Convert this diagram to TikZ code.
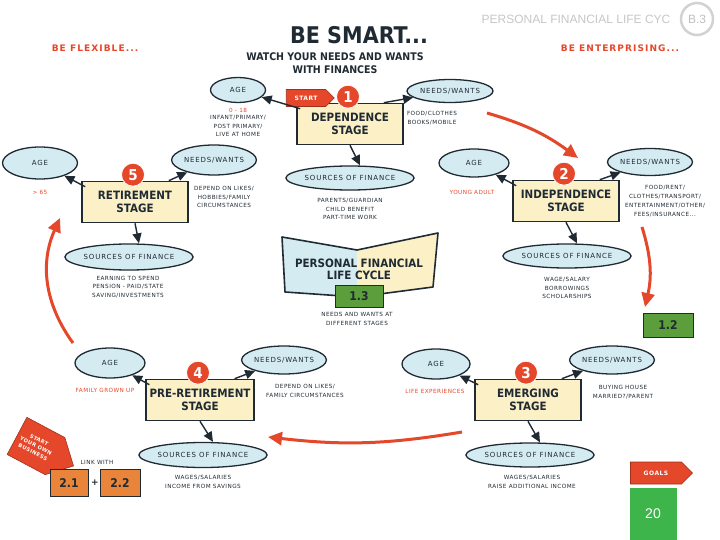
\documentclass[tikz,border=0pt]{standalone}
\usepackage{fontspec}
\setmainfont{DejaVu Sans}
\newfontfamily\handfont{DejaVu Sans Condensed}
\newfontfamily\spacedfont{DejaVu Sans}[LetterSpace=12]
\newfontfamily\notefont{DejaVu Sans}[LetterSpace=8]
\newfontfamily\headfont{Liberation Sans}
\usepackage{tikz}
\usetikzlibrary{arrows.meta,shapes.geometric,shapes.symbols,positioning}

\definecolor{sky}{HTML}{D5EBF2}
\definecolor{cream}{HTML}{FCF0C6}
\definecolor{tomato}{HTML}{E4472A}
\definecolor{ink}{HTML}{1F2A33}
\definecolor{leaf}{HTML}{5C9E3C}
\definecolor{mint}{HTML}{3DB54A}
\definecolor{amber}{HTML}{E8853B}

\tikzset{
	stagebox/.style={draw=ink, line width=1.6pt, fill=cream, align=center, minimum width=106pt, minimum height=41pt,
		font=\handfont\bfseries\fontsize{11.5}{12.5}\selectfont, text=ink},
	bubble/.style={ellipse, draw=ink, line width=1.3pt, fill=sky, inner sep=0pt, text=ink,
		font=\spacedfont\fontsize{7}{7}\selectfont},
	note/.style={align=center, text=ink, font=\notefont\fontsize{5.7}{8.8}\selectfont},
	rednote/.style={note, text=tomato},
	badge/.style={circle, fill=tomato, draw=white, line width=0.8pt, text=white, inner sep=0pt, minimum size=23pt,
		font=\handfont\bfseries\fontsize{15}{15}\selectfont},
	link/.style={ink, line width=1.4pt, -{Triangle[length=10pt,width=9pt]}},
	loop/.style={tomato, line width=3pt, -{Triangle[length=14pt,width=13pt]}},
	tag/.style={signal, signal to=east, fill=tomato, draw=tomato!70!black, line width=0.6pt, text=white, inner sep=1pt,
		font=\notefont\bfseries\fontsize{6}{7.5}\selectfont, align=center},
	numbox/.style={draw=ink, line width=1pt, text=ink, font=\handfont\bfseries\fontsize{12}{12}\selectfont},
	motto/.style={text=tomato, font=\spacedfont\bfseries\fontsize{9}{9}\selectfont}
}

\begin{document}
\begin{tikzpicture}[x=1pt,y=-1pt]

\useasboundingbox (0,0) rectangle (720,540);

\def\STAGE(#1)#2#3{%
	\node[stagebox] (box#2) at (#1) {#3}; % stage box
	\node[badge] (num#2) at ([xshift=-2pt,yshift=6pt]box#2.north) {#2}; % stage number
}

% Headings
\node[text=ink, font=\handfont\bfseries\fontsize{23}{23}\selectfont] (title) at (359,35) {BE SMART...};
\node[text=ink, align=center, font=\handfont\bfseries\fontsize{10.5}{13}\selectfont] (watch) at (335,63) {WATCH YOUR NEEDS AND WANTS\\WITH FINANCES};
\node[motto] (flexible) at (95,48) {BE FLEXIBLE...};
\node[motto] (enterprising) at (620,48) {BE ENTERPRISING...};
\node[text=gray!45, font=\headfont\fontsize{12}{12}\selectfont] (header) at (576,19) {PERSONAL FINANCIAL LIFE CYC};
\node[circle, draw=gray!35, line width=2.5pt, minimum size=32pt, inner sep=0pt, text=gray!50,
	font=\headfont\fontsize{12}{12}\selectfont] (page) at (697,19) {B.3};

% Stage 1
\STAGE(350,124){1}{DEPENDENCE\\STAGE}
\node[tag, minimum width=48pt, minimum height=17pt] (start) at (306,98) {START};
\node[bubble, minimum width=55pt, minimum height=25pt] (age1) at (238,90) {AGE};
\node[rednote] (agered1) at (238,110) {0 - 18};
\node[note] (agenote1) at (238,126) {INFANT/PRIMARY/\\POST PRIMARY/\\LIVE AT HOME};
\node[bubble, minimum width=86pt, minimum height=23pt] (needs1) at (450,91) {NEEDS/WANTS};
\node[note] (needsnote1) at (432,118) {FOOD/CLOTHES\\BOOKS/MOBILE};
\node[bubble, minimum width=126pt, minimum height=24pt] (fin1) at (350,178) {SOURCES OF FINANCE};
\node[note] (finnote1) at (350,209) {PARENTS/GUARDIAN\\CHILD BENEFIT\\PART-TIME WORK};

% Stage 2
\STAGE(566,201){2}{INDEPENDENCE\\STAGE}
\node[bubble, minimum width=70pt, minimum height=28pt] (age2) at (474,163) {AGE};
\node[rednote] (agered2) at (472,192) {YOUNG ADULT};
\node[bubble, minimum width=85pt, minimum height=27pt] (needs2) at (650,162) {NEEDS/WANTS};
\node[note] (needsnote2) at (665,201) {FOOD/RENT/\\CLOTHES/TRANSPORT/\\ENTERTAINMENT/OTHER/\\FEES/INSURANCE...};
\node[bubble, minimum width=126pt, minimum height=24pt] (fin2) at (567,256) {SOURCES OF FINANCE};
\node[note] (finnote2) at (567,288) {WAGE/SALARY\\BORROWINGS\\SCHOLARSHIPS};

% Stage 3
\STAGE(528,400){3}{EMERGING\\STAGE}
\node[bubble, minimum width=68pt, minimum height=30pt] (age3) at (436,364) {AGE};
\node[rednote] (agered3) at (435,391) {LIFE EXPERIENCES};
\node[bubble, minimum width=83pt, minimum height=28pt] (needs3) at (612,360) {NEEDS/WANTS};
\node[note] (needsnote3) at (623,392) {BUYING HOUSE\\MARRIED?/PARENT};
\node[bubble, minimum width=125pt, minimum height=24pt] (fin3) at (530,455) {SOURCES OF FINANCE};
\node[note] (finnote3) at (532,482) {WAGES/SALARIES\\RAISE ADDITIONAL INCOME};

% Stage 4
\STAGE(200,400){4}{PRE-RETIREMENT\\STAGE}
\node[bubble, minimum width=70pt, minimum height=30pt] (age4) at (110,363) {AGE};
\node[rednote] (agered4) at (105,390) {FAMILY GROWN UP};
\node[bubble, minimum width=83pt, minimum height=28pt] (needs4) at (284,360) {NEEDS/WANTS};
\node[note] (needsnote4) at (305,391) {DEPEND ON LIKES/\\FAMILY CIRCUMSTANCES};
\node[bubble, minimum width=126pt, minimum height=25pt] (fin4) at (203,455) {SOURCES OF FINANCE};
\node[note] (finnote4) at (203,482) {WAGES/SALARIES\\INCOME FROM SAVINGS};

% Stage 5
\STAGE(135,202){5}{RETIREMENT\\STAGE}
\node[bubble, minimum width=75pt, minimum height=32pt] (age5) at (40,163) {AGE};
\node[rednote] (agered5) at (40,192) {> 65};
\node[bubble, minimum width=82pt, minimum height=30pt] (needs5) at (214,160) {NEEDS/WANTS};
\node[note] (needsnote5) at (224,197) {DEPEND ON LIKES/\\HOBBIES/FAMILY\\CIRCUMSTANCES};
\node[bubble, minimum width=127pt, minimum height=26pt] (fin5) at (129,257) {SOURCES OF FINANCE};
\node[note] (finnote5) at (128,287) {EARNING TO SPEND\\PENSION - PAID/STATE\\SAVING/INVESTMENTS};

% Links from every stage to its bubbles
\foreach \s in {1,...,5}{
	\draw[link] ([xshift=4pt,yshift=-6pt]box\s.north west) -- (age\s);
	\draw[link] ([xshift=-20pt]box\s.north east) -- (needs\s);
	\draw[link] (box\s.south) -- ([xshift=10pt]fin\s.north);
}

% Centre book
\fill[sky] (282,237) -- (357,250) -- (357,297) -- (285,292) -- cycle;
\fill[cream] (357,250) -- (438,233) -- (433,287) -- (357,297) -- cycle;
\draw[ink, line width=1.6pt, line join=round] (282,237) -- (357,250) -- (438,233) -- (433,287) -- (357,297) -- (285,292) -- cycle;
\node[align=center, text=ink, font=\handfont\bfseries\fontsize{11.5}{12}\selectfont] (book) at (359,269) {PERSONAL FINANCIAL\\LIFE CYCLE};
\node[numbox, fill=leaf, minimum width=48pt, minimum height=22pt] (c13) at (359,296) {1.3};
\node[note] (booknote) at (357,319) {NEEDS AND WANTS AT\\DIFFERENT STAGES};

% Goals and links
\node[numbox, fill=leaf, minimum width=50pt, minimum height=24pt] (c12) at (668,325) {1.2};
\node[tag, minimum width=62pt, minimum height=22pt] (goals) at (656,473) {GOALS};
\node[fill=mint, minimum width=47pt, minimum height=52pt, text=white, font=\headfont\fontsize{14}{14}\selectfont] (slide) at (653,514) {20};
\node[tag, rotate=-28, minimum width=64pt, minimum height=42pt, inner sep=0.5pt,
	font=\notefont\bfseries\fontsize{5.2}{6.6}\selectfont] (business) at (36,446) {START\\YOUR OWN\\BUSINESS};
\node[note] (linkwith) at (97,462) {LINK WITH};
\node[numbox, fill=amber, minimum width=38pt, minimum height=27pt] (c21) at (69,483) {2.1};
\node[text=ink, font=\bfseries\fontsize{9}{9}\selectfont] (plus) at (95,483) {+};
\node[numbox, fill=amber, minimum width=40pt, minimum height=27pt] (c22) at (120,483) {2.2};

% Red cycle arrows
\coordinate (r1from) at (487,113);
\coordinate (r1to) at (578,158);
\coordinate (r2from) at (642,227);
\coordinate (r2to) at (645,307);
\coordinate (r3from) at (462,432);
\coordinate (r3to) at (268,437);
\coordinate (r4from) at (73,343);
\coordinate (r4to) at (60,218);
\draw[loop] (r1from) to[bend left=10] (r1to);
\draw[loop] (r2from) to[bend left=15] (r2to);
\draw[loop] (r3from) to[bend left=8] (r3to);
\draw[loop] (r4from) to[bend left=30] (r4to);

\end{tikzpicture}
\end{document}
